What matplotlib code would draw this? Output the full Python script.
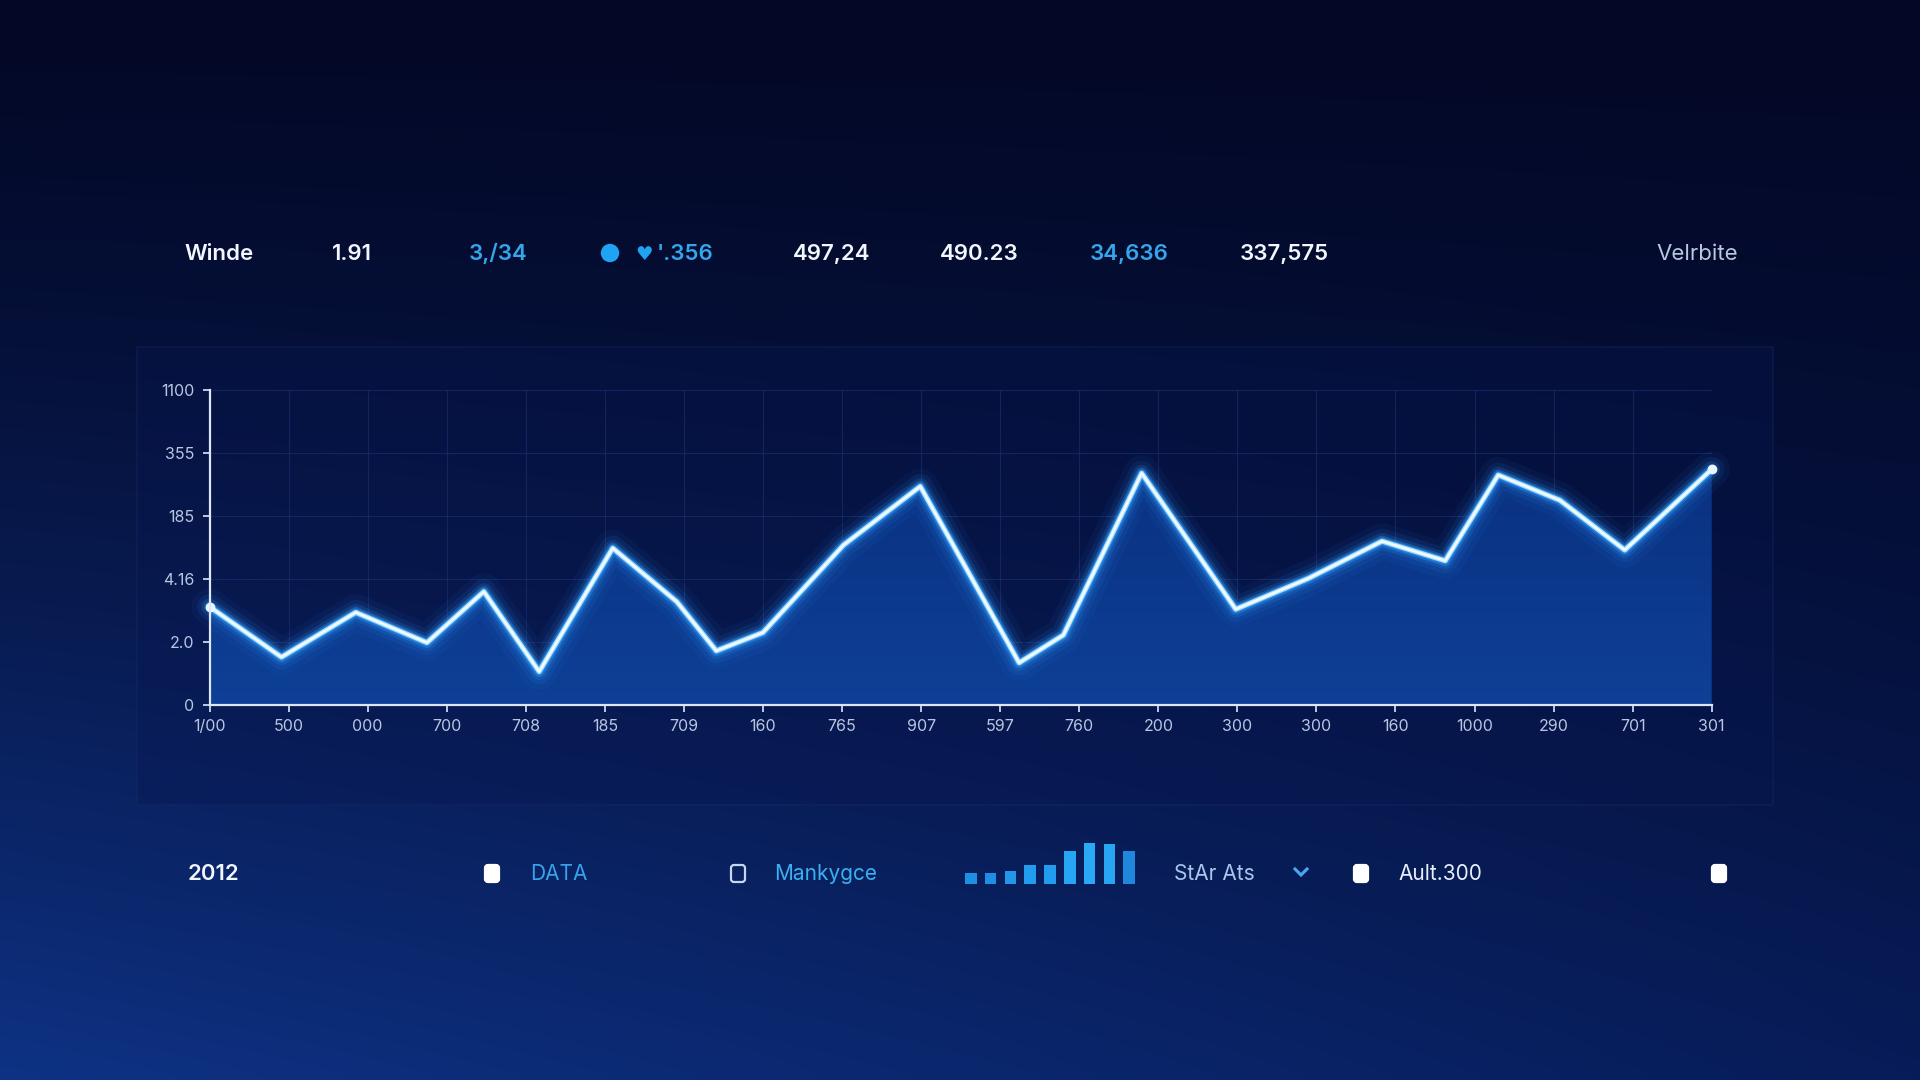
import numpy as np
import matplotlib.pyplot as plt
from matplotlib.patches import Rectangle, FancyBboxPatch, Circle

# ── 0. 全局设置 ────────────────────────────────────────────────
plt.rcParams['font.family'] = ['Inter', 'DejaVu Sans']

# ── 1. 数据 ───────────────────────────────────────────────────
x_pos = [0, 0.91, 1.85, 2.75, 3.47, 4.17, 5.10, 5.91, 6.41, 7.00, 8.02, 8.99,
         10.24, 10.80, 11.79, 12.98, 13.90, 14.83, 15.63, 16.30, 17.08, 17.90, 19.0]
values = [1.56, 0.76, 1.47, 0.99, 1.80, 0.53, 2.49, 1.64, 0.86, 1.15, 2.54, 3.47,
          0.67, 1.11, 3.68, 1.52, 2.01, 2.60, 2.29, 3.65, 3.25, 2.46, 3.74]
x_labels = ["1/00", "500", "000", "700", "708", "185", "709", "160", "765", "907",
            "597", "760", "200", "300", "300", "160", "1000", "290", "701", "301"]
y_labels = ["0", "2.0", "4.16", "185", "355", "1100"]

header_texts = ["Winde", "1.91", "3,/34", "'.356", "497,24", "490.23", "34,636", "337,575", "Velrbite"]
header_colors = ["#f2f6ff", "#f2f6ff", "#33a6ee", "#33a6ee", "#f2f6ff", "#f2f6ff", "#33a6ee", "#f2f6ff", "#b9c8e2"]

footer_texts = ["2012", "DATA", "Mankygce", "StAr Ats", "Ault.300"]
footer_colors = ["#f2f6ff", "#3aa2ea", "#3ab0f0", "#a9c6ee", "#e8eefc"]

signal_levels = [1.0, 1.0, 1.25, 1.75, 1.75, 3.1, 3.8, 3.7, 3.1]
signal_colors = ["#1f8fe6", "#1f8fe6", "#2196ea", "#229cee", "#229cee", "#27a6f4", "#2aaaf6", "#28a6f4", "#1f88dc"]

# ── 2. 画布与背景渐变 ──────────────────────────────────────────
W, H = 1920, 1080
fig = plt.figure(figsize=(19.2, 10.8), dpi=100)

bg = fig.add_axes([0, 0, 1, 1], zorder=0)
gy, gx = np.mgrid[0:1:108j, 0:1:192j]
t = gy ** 1.35
top = np.array([3, 8, 38]) / 255
bl = np.array([14, 50, 132]) / 255
br = np.array([7, 28, 88]) / 255
bottom = bl[None, None, :] * (1 - gx[..., None]) + br[None, None, :] * gx[..., None]
img = top[None, None, :] * (1 - t[..., None]) + bottom * t[..., None]
bg.imshow(img, extent=[0, W, H, 0], aspect='auto', interpolation='bicubic')
bg.set_xlim(0, W)
bg.set_ylim(H, 0)
bg.axis('off')

# 面板边框
bg.add_patch(Rectangle((137, 347), 1636, 458, facecolor='#071650', alpha=0.3,
                       edgecolor='#1d2f6c', lw=1.2))

# ── 3. 主折线图 ───────────────────────────────────────────────
ax = fig.add_axes([209.5 / W, 1 - 705 / H, (1711.7 - 209.5) / W, (705 - 390) / H], zorder=2)
ax.patch.set_alpha(0)
ax.set_xlim(0, 19)
ax.set_ylim(0, 5)

# 线下渐变填充
fill = ax.fill_between(x_pos, values, 0, color='none', lw=0)
grad = np.linspace(0, 1, 256)[:, None]
c_low = np.array([13, 64, 150]) / 255
c_high = np.array([10, 48, 128]) / 255
gimg = c_low[None, None, :] * (1 - grad[..., None]) + c_high[None, None, :] * grad[..., None]
gim = ax.imshow(gimg, extent=[0, 19, 0, 4], origin='lower', aspect='auto', zorder=1)
gim.set_clip_path(fill.get_paths()[0], transform=ax.transData)

# 发光效果
for lw, a in [(26, 0.05), (18, 0.09), (12, 0.16), (8, 0.3), (5.5, 0.55)]:
    ax.plot(x_pos, values, color='#2f9cff', lw=lw, alpha=a, solid_joinstyle='round',
            solid_capstyle='round', zorder=3, clip_on=False)
ax.plot(x_pos, values, color='#a8e0ff', lw=3.6, zorder=4, clip_on=False, solid_joinstyle='round')
ax.plot(x_pos, values, color='#f4fbff', lw=1.8, zorder=5, clip_on=False, solid_joinstyle='round')
ax.plot([x_pos[0], x_pos[-1]], [values[0], values[-1]], 'o', color='#eaf6ff', ms=6, zorder=6, clip_on=False)

ax.set_xticks(range(len(x_labels)))
ax.set_xticklabels(x_labels)
ax.set_yticks(range(len(y_labels)))
ax.set_yticklabels(y_labels)
ax.grid(color='#1a2d6a', lw=0.8, alpha=0.7, zorder=0)
ax.set_axisbelow(True)
for s in ['top', 'right']:
    ax.spines[s].set_visible(False)
for s in ['left', 'bottom']:
    ax.spines[s].set_color('#dce6f8')
    ax.spines[s].set_linewidth(1.6)
    ax.spines[s].set_zorder(7)
ax.tick_params(colors='#dce6f8', labelcolor='#b8c6e0', labelsize=11.5, length=5, width=1.2)
ax.tick_params(axis='x', pad=5)
ax.tick_params(axis='y', pad=6)

# ── 4. 顶部指标栏与底部控件 ────────────────────────────────────
ov = fig.add_axes([0, 0, 1, 1], zorder=3)
ov.patch.set_alpha(0)
ov.set_xlim(0, W)
ov.set_ylim(H, 0)
ov.axis('off')

header_x = [184, 332, 469, 657, 793, 940, 1090, 1240, 1656]
for i, (txt, col) in enumerate(zip(header_texts, header_colors)):
    weight = 'normal' if i == len(header_texts) - 1 else 'semibold'
    ov.text(header_x[i], 254, txt, color=col, fontsize=16, fontweight=weight,
            ha='left', va='center')
ov.add_patch(Circle((610, 253), 8.5, color='#1ea4f2'))
ov.text(644, 254, '\u2665', color='#1ea4f2', fontsize=14, ha='center', va='center',
        family=['DejaVu Sans'])

footer_x = [188, 530, 774, 1174, 1398]
for i, (txt, col) in enumerate(zip(footer_texts, footer_colors)):
    ov.text(footer_x[i], 874, txt, color=col, fontsize=16 if i == 0 else 15,
            fontweight='semibold' if i == 0 else 'normal', ha='left', va='center')

for cx, filled in [(492, True), (738, False), (1361, True), (1719, True)]:
    ov.add_patch(FancyBboxPatch((cx - 7, 865), 14, 17, boxstyle='round,pad=0,rounding_size=3',
                                facecolor='#ffffff' if filled else 'none',
                                edgecolor='#ffffff' if filled else '#c6d6f0', lw=1.6))
ov.plot([1295, 1301, 1307], [869, 875, 869], color='#4aa8f0', lw=2.2,
        solid_joinstyle='miter')

# 信号强度小柱图
sx = fig.add_axes([961 / W, 1 - 884 / H, 178 / W, 41 / H], zorder=3)
sx.bar(range(len(signal_levels)), signal_levels, width=0.58, color=signal_colors)
sx.set_xlim(-0.5, len(signal_levels) - 0.5)
sx.set_ylim(0, 3.8)
sx.axis('off')

fig.savefig('out.png', dpi=100)
